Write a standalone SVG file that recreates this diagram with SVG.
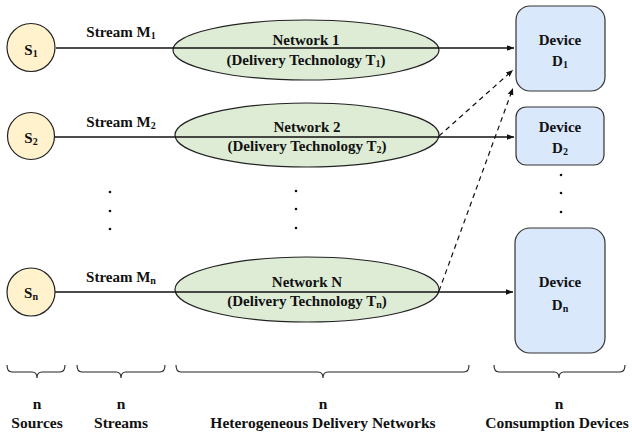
<svg xmlns="http://www.w3.org/2000/svg" width="632" height="432" viewBox="0 0 632 432">
  <style>
    text { font-family: "Liberation Serif", "Times New Roman", serif; font-weight: bold; fill: #111; }
    .lbl { font-size: 15px; text-anchor: middle; }
    .big { font-size: 15.5px; }
    .sub { font-size: 10px; }
    .src { fill: #fff2cc; stroke: #222; stroke-width: 1.2; }
    .net { fill: #deecd6; stroke: #222; stroke-width: 1.2; }
    .dev { fill: #dae8fc; stroke: #333; stroke-width: 1.2; }
    .link { stroke: #111; stroke-width: 1.3; fill: none; }
    .dash { stroke: #111; stroke-width: 1.2; fill: none; stroke-dasharray: 5 4; }
    .brace { stroke: #222; stroke-width: 1.1; fill: none; }
    .dot { fill: #111; }
  </style>
  <defs>
    <marker id="arrow" viewBox="0 0 10 10" refX="10" refY="5" markerWidth="7" markerHeight="7" markerUnits="userSpaceOnUse" orient="auto">
      <path d="M0,1 L10,5 L0,9 Z" fill="#111"/>
    </marker>
  </defs>

  <rect width="632" height="432" fill="#fff"/>

  <!-- connectors -->
  <g id="connectors">
    <line class="link" x1="56" y1="48" x2="514" y2="48" marker-end="url(#arrow)"/>
    <line class="link" x1="55" y1="137" x2="514" y2="137" marker-end="url(#arrow)"/>
    <line class="link" x1="55" y1="292" x2="513" y2="292" marker-end="url(#arrow)"/>
    <line class="dash" x1="439" y1="136" x2="513" y2="70" marker-end="url(#arrow)"/>
    <line class="dash" x1="439" y1="291" x2="513" y2="88" marker-end="url(#arrow)"/>
  </g>

  <!-- networks -->
  <g id="net1">
    <ellipse class="net" cx="306" cy="50" rx="133" ry="30"/>
    <line class="link" x1="173" y1="48" x2="439" y2="48"/>
    <text class="lbl" x="306" y="45">Network 1</text>
    <text class="lbl" x="306" y="65">(Delivery Technology T<tspan class="sub" dy="2">1</tspan><tspan dy="-2">)</tspan></text>
  </g>
  <g id="net2">
    <ellipse class="net" cx="307" cy="135" rx="132" ry="32"/>
    <line class="link" x1="175" y1="137" x2="439" y2="137"/>
    <text class="lbl" x="307" y="132">Network 2</text>
    <text class="lbl" x="307" y="151">(Delivery Technology T<tspan class="sub" dy="2">2</tspan><tspan dy="-2">)</tspan></text>
  </g>
  <g id="netN">
    <ellipse class="net" cx="307" cy="289.5" rx="132" ry="32.5"/>
    <line class="link" x1="175" y1="292" x2="439" y2="292"/>
    <text class="lbl" x="307" y="287">Network N</text>
    <text class="lbl" x="307" y="306">(Delivery Technology T<tspan class="sub" dy="2">n</tspan><tspan dy="-2">)</tspan></text>
  </g>

  <!-- sources -->
  <g id="s1">
    <circle class="src" cx="31" cy="47.5" r="24"/>
    <text class="lbl" x="31" y="55">S<tspan class="sub" dy="2">1</tspan></text>
  </g>
  <g id="s2">
    <circle class="src" cx="31" cy="136" r="23.5"/>
    <text class="lbl" x="31" y="143">S<tspan class="sub" dy="2">2</tspan></text>
  </g>
  <g id="sn">
    <circle class="src" cx="31" cy="292" r="24"/>
    <text class="lbl" x="31" y="298">S<tspan class="sub" dy="2">n</tspan></text>
  </g>

  <!-- stream labels -->
  <g id="streams">
    <text class="lbl" x="121" y="37">Stream M<tspan class="sub" dy="2">1</tspan></text>
    <text class="lbl" x="121" y="127">Stream M<tspan class="sub" dy="2">2</tspan></text>
    <text class="lbl" x="121" y="282">Stream M<tspan class="sub" dy="2">n</tspan></text>
  </g>

  <!-- devices -->
  <g id="d1">
    <rect class="dev" x="516" y="6" width="89" height="85" rx="14"/>
    <text class="lbl" x="560" y="45">Device</text>
    <text class="lbl" x="560" y="66">D<tspan class="sub" dy="2">1</tspan></text>
  </g>
  <g id="d2">
    <rect class="dev" x="516" y="107" width="88" height="58" rx="10"/>
    <text class="lbl" x="560" y="132">Device</text>
    <text class="lbl" x="560" y="153">D<tspan class="sub" dy="2">2</tspan></text>
  </g>
  <g id="dn">
    <rect class="dev" x="515" y="228" width="90" height="125" rx="15"/>
    <text class="lbl" x="560" y="287">Device</text>
    <text class="lbl" x="560" y="310">D<tspan class="sub" dy="2">n</tspan></text>
  </g>

  <!-- ellipsis dots -->
  <g id="dots">
    <circle class="dot" cx="110" cy="192" r="1.3"/>
    <circle class="dot" cx="110" cy="211" r="1.3"/>
    <circle class="dot" cx="110" cy="229" r="1.3"/>
    <circle class="dot" cx="296" cy="191" r="1.3"/>
    <circle class="dot" cx="296" cy="209" r="1.3"/>
    <circle class="dot" cx="296" cy="228" r="1.3"/>
    <circle class="dot" cx="561" cy="175" r="1.3"/>
    <circle class="dot" cx="561" cy="193" r="1.3"/>
    <circle class="dot" cx="561" cy="212" r="1.3"/>
  </g>

  <!-- bottom braces and counts -->
  <g id="braces">
    <path class="brace" d="M7,365 Q7,372 12,372 L32,372 Q37,372 37,378 Q37,372 42,372 L60,372 Q65,372 65,365"/>
    <path class="brace" d="M77,365 Q77,372 82,372 L116,372 Q121,372 121,378 Q121,372 126,372 L160,372 Q165,372 165,365"/>
    <path class="brace" d="M176,365 Q176,372 181,372 L318,372 Q323,372 323,378 Q323,372 328,372 L464,372 Q469,372 469,365"/>
    <path class="brace" d="M494,365 Q494,372 499,372 L554,372 Q559,372 559,378 Q559,372 564,372 L620,372 Q625,372 625,365"/>
  </g>
  <g id="legend">
    <text class="lbl big" x="37" y="409">n</text>
    <text class="lbl big" x="37" y="428">Sources</text>
    <text class="lbl big" x="121" y="409">n</text>
    <text class="lbl big" x="121" y="428">Streams</text>
    <text class="lbl big" x="323" y="409">n</text>
    <text class="lbl big" x="323" y="428">Heterogeneous Delivery Networks</text>
    <text class="lbl big" x="559" y="409">n</text>
    <text class="lbl big" x="557" y="428">Consumption Devices</text>
  </g>
</svg>
